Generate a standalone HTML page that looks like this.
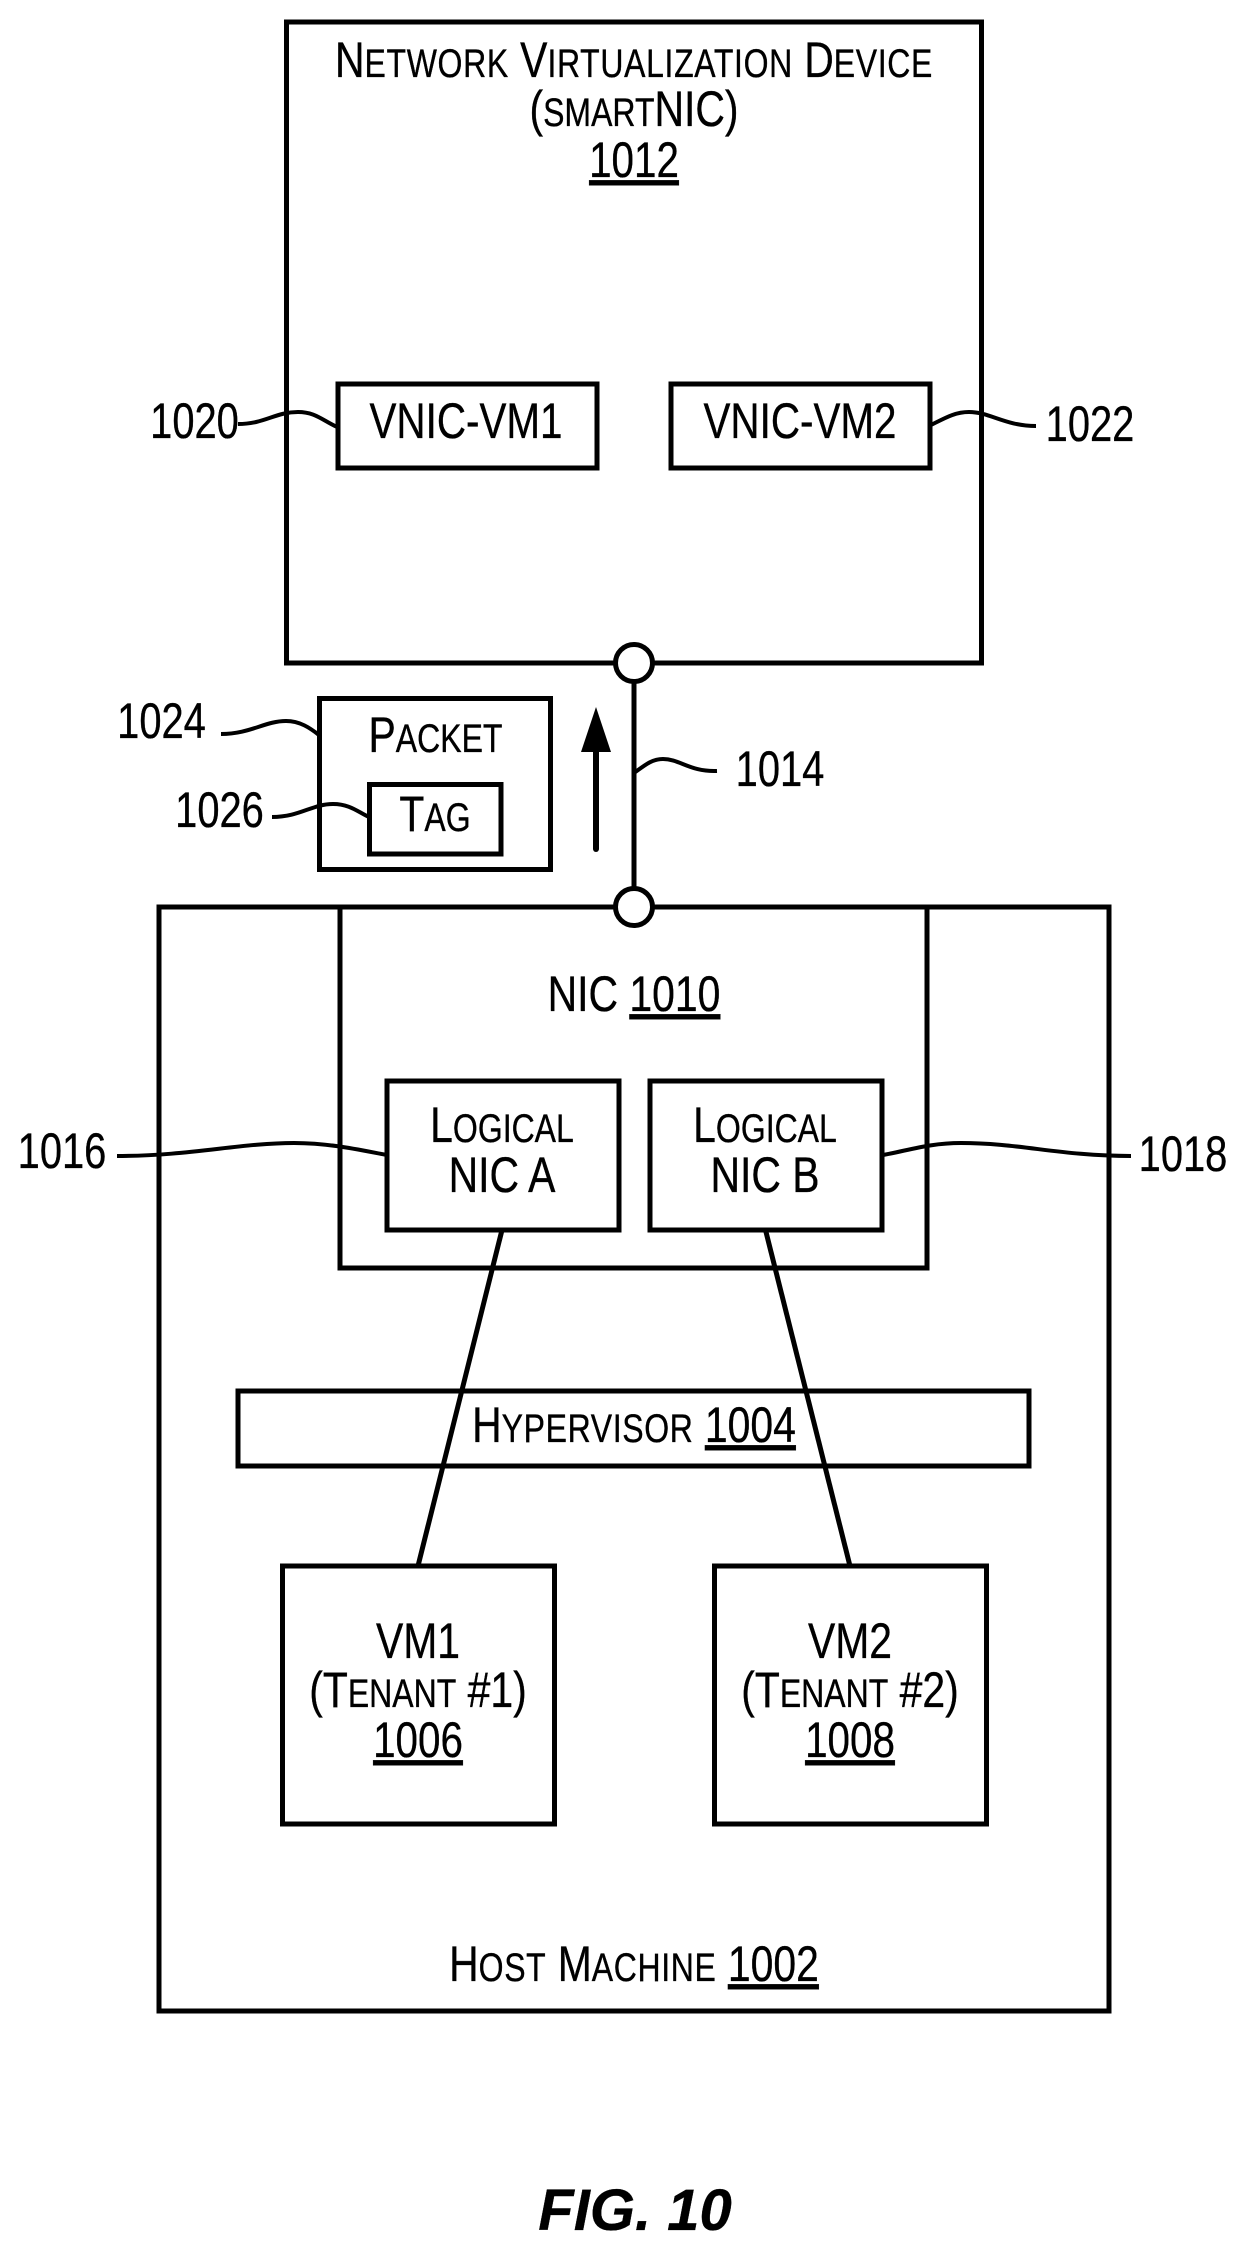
<!DOCTYPE html>
<html><head><meta charset="utf-8"><style>
html,body{margin:0;padding:0;background:#fff}
svg{display:block}
text{font-family:"Liberation Sans",sans-serif;font-size:50.5px;fill:#000;text-anchor:middle;stroke:#000;stroke-width:.35}
.s{font-size:39.5px}
.w{letter-spacing:.8px}
rect{fill:none;stroke:#000;stroke-width:5}
.l{fill:none;stroke:#000;stroke-width:4}
</style></head><body>
<svg width="1245" height="2251" viewBox="0 0 1245 2251" xmlns="http://www.w3.org/2000/svg">
<rect x="286.5" y="22" width="695" height="641"/>
<rect x="338" y="384" width="259" height="84"/>
<rect x="671" y="384" width="259" height="84"/>
<rect x="319.5" y="698.5" width="231" height="171"/>
<rect x="369.5" y="784.5" width="131.5" height="69.5"/>
<rect x="159" y="907" width="950" height="1104"/>
<rect x="340" y="907" width="587" height="361"/>
<rect x="387" y="1081" width="232" height="149"/>
<rect x="650" y="1081" width="232" height="149"/>
<rect x="238" y="1391" width="791" height="75"/>
<rect x="282.5" y="1566" width="272" height="258"/>
<rect x="714.5" y="1566" width="272" height="258"/>
<line x1="634" y1="680" x2="634" y2="895" stroke="#000" stroke-width="5"/>
<circle cx="634" cy="663" r="18.5" fill="#fff" stroke="#000" stroke-width="5"/>
<circle cx="634" cy="907" r="18.5" fill="#fff" stroke="#000" stroke-width="5"/>
<line x1="596" y1="745" x2="596" y2="849" stroke="#000" stroke-width="6" stroke-linecap="round"/>
<polygon points="596,707 611,752 581,752" fill="#000"/>
<line x1="502" y1="1230" x2="418" y2="1566" stroke="#000" stroke-width="5"/>
<line x1="765.5" y1="1230" x2="850" y2="1566" stroke="#000" stroke-width="5"/>
<path class="l" d="M238 424C265 424 275 412 298 412C315 412 322 420 337 427"/>
<path class="l" d="M931 425C945 418 955 412 969 412C990 412 1005 426 1036 426"/>
<path class="l" d="M221 734C250 734 265 721 286 721C300 721 310 728 319 735"/>
<path class="l" d="M272 817C300 817 312 804 333 804C350 804 358 812 369 817"/>
<path class="l" d="M634 773C645 765 652 759 663 759C680 759 690 772 717 771"/>
<path class="l" d="M117 1156C190 1156 240 1143 294 1143C330 1143 360 1150 387 1155"/>
<path class="l" d="M883 1155C910 1150 930 1143 961 1143C1020 1143 1060 1156 1131 1156"/>
<text transform="translate(634,77) scale(.81,1)">N<tspan class="s w">ETWORK</tspan> V<tspan class="s w">IRTUALIZATION</tspan> D<tspan class="s w">EVICE</tspan></text>
<text transform="translate(634,126) scale(.81,1)">(<tspan class="s">SMART</tspan>NIC)</text>
<text transform="translate(634,177) scale(.8,1)" text-decoration="underline">1012</text>
<text transform="translate(466,438) scale(.8,1)">VNIC-VM1</text>
<text transform="translate(800,438) scale(.8,1)">VNIC-VM2</text>
<text transform="translate(194.5,438) scale(.79,1)">1020</text>
<text transform="translate(1090,441) scale(.79,1)">1022</text>
<text transform="translate(161.5,738) scale(.79,1)">1024</text>
<text transform="translate(219.5,827) scale(.79,1)">1026</text>
<text transform="translate(780,786) scale(.79,1)">1014</text>
<text transform="translate(435.5,752) scale(.81,1)">P<tspan class="s">ACKET</tspan></text>
<text transform="translate(435,831) scale(.81,1)">T<tspan class="s">AG</tspan></text>
<text transform="translate(634,1011) scale(.81,1)">NIC <tspan text-decoration="underline">1010</tspan></text>
<text transform="translate(502,1142) scale(.81,1)">L<tspan class="s">OGICAL</tspan></text>
<text transform="translate(502,1192) scale(.81,1)">NIC A</text>
<text transform="translate(765,1142) scale(.81,1)">L<tspan class="s">OGICAL</tspan></text>
<text transform="translate(765,1192) scale(.81,1)">NIC B</text>
<text transform="translate(62,1168) scale(.79,1)">1016</text>
<text transform="translate(1183,1171) scale(.79,1)">1018</text>
<text transform="translate(634,1442) scale(.81,1)">H<tspan class="s w">YPERVISOR</tspan> <tspan text-decoration="underline">1004</tspan></text>
<text transform="translate(418,1658) scale(.81,1)">VM1</text>
<text transform="translate(418,1707) scale(.81,1)">(T<tspan class="s">ENANT</tspan> #1)</text>
<text transform="translate(418,1757) scale(.8,1)" text-decoration="underline">1006</text>
<text transform="translate(850,1658) scale(.81,1)">VM2</text>
<text transform="translate(850,1707) scale(.81,1)">(T<tspan class="s">ENANT</tspan> #2)</text>
<text transform="translate(850,1757) scale(.8,1)" text-decoration="underline">1008</text>
<text transform="translate(634,1981) scale(.81,1)">H<tspan class="s w">OST</tspan> M<tspan class="s w">ACHINE</tspan> <tspan text-decoration="underline">1002</tspan></text>
<text x="635" y="2230" style="font-size:58px;font-weight:bold;font-style:italic">FIG. 10</text>
</svg>
</body></html>
